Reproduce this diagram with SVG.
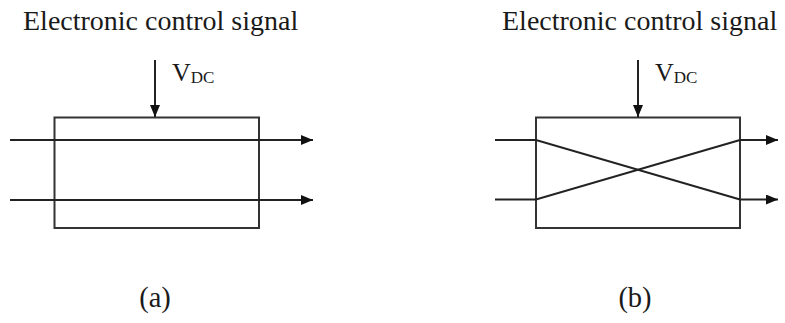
<svg xmlns="http://www.w3.org/2000/svg" width="785" height="323" viewBox="0 0 785 323">
<defs>
<marker id="ah" viewBox="0 0 12 10" refX="12" refY="5" markerWidth="12" markerHeight="10" markerUnits="userSpaceOnUse" orient="auto">
<path d="M0,0 L12,5 L0,10 Z" fill="#111"/>
</marker>
</defs>
<style>
text{font-family:"Liberation Serif","Times New Roman",serif;fill:#1a1a1a}
.t{font-size:28px}
.l{font-size:28.5px}
.v{font-size:26px}
.s{font-size:17px}
.box{fill:none;stroke:#333;stroke-width:2}
.ln{fill:none;stroke:#222;stroke-width:2}
</style>
<rect width="785" height="323" fill="#fff"/>
<g id="title-a"><text class="t" x="23" y="30">Electronic control signal</text></g>
<g id="title-b"><text class="t" x="502" y="30">Electronic control signal</text></g>
<g id="box-a"><rect class="box" x="54.5" y="117.5" width="204.5" height="110.5"/></g>
<g id="box-b"><rect class="box" x="536" y="117.5" width="204" height="110.5"/></g>
<g id="vdc-a"><text class="v" x="172" y="81">V<tspan class="s" dy="2">DC</tspan></text></g>
<g id="vdc-b"><text class="v" x="655" y="81">V<tspan class="s" dy="2">DC</tspan></text></g>
<g id="label-a"><text class="l" x="155" y="307" text-anchor="middle">(a)</text></g>
<g id="label-b"><text class="l" x="635" y="307" text-anchor="middle">(b)</text></g>
<g id="connectors">
<line class="ln" x1="155" y1="60" x2="155" y2="117" marker-end="url(#ah)"/>
<line class="ln" x1="10" y1="140" x2="313" y2="140" marker-end="url(#ah)"/>
<line class="ln" x1="10" y1="200" x2="313" y2="200" marker-end="url(#ah)"/>
<line class="ln" x1="638" y1="60" x2="638" y2="117" marker-end="url(#ah)"/>
<polyline class="ln" points="495,140 536,140 740,199.5"/>
<polyline class="ln" points="495,199.5 536,199.5 740,140"/>
<line class="ln" x1="740" y1="140" x2="778" y2="140" marker-end="url(#ah)"/>
<line class="ln" x1="740" y1="199.5" x2="778" y2="199.5" marker-end="url(#ah)"/>
</g>
</svg>
